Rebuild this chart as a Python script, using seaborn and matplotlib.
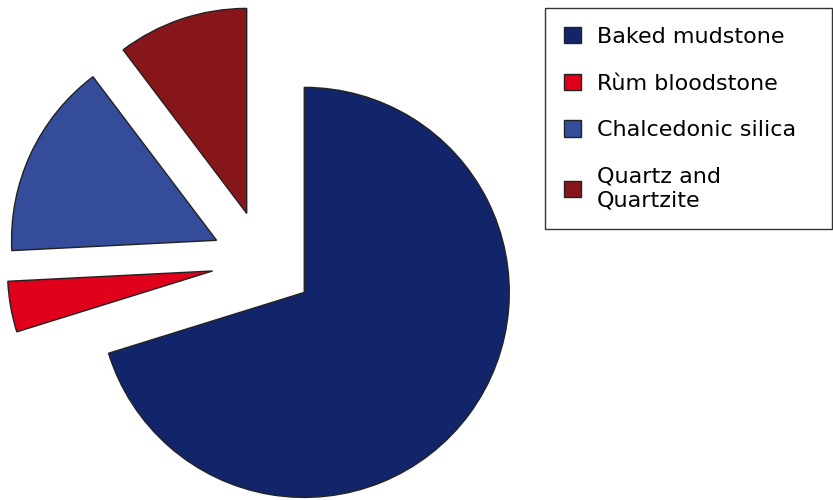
import textwrap
import matplotlib
matplotlib.use("Agg")
import matplotlib.pyplot as plt
import seaborn as sns

# Anteile der Rohmaterialien (Prozent, aus dem Bild geschaetzt)
materials = ["Baked mudstone", "Rùm bloodstone", "Chalcedonic silica",
             "Quartz and Quartzite"]
shares = [70.2, 4.0, 15.5, 10.3]
colors = ["#12256a", "#e0001b", "#344c99", "#87161b"]

sns.set_style("white")
plt.rcParams['font.family'] = ['DejaVu Sans']

fig = plt.figure(figsize=(8.33, 5), dpi=100)
ax = fig.add_axes([0, 0, 1, 1])

wedges, _ = ax.pie(shares, colors=colors, startangle=90, counterclock=False,
                   explode=[0.25] * len(shares), radius=1.0,
                   wedgeprops=dict(edgecolor="#222222", linewidth=1.0))

# Pixel-Rahmen: Mittelpunkt bei ca. (263, 262) px, Radius 205 px
ax.set_xlim(-263 / 205, (833 - 263) / 205)
ax.set_ylim(-(500 - 262) / 205, 262 / 205)
ax.set_aspect("equal")
ax.axis("off")

labels = [textwrap.fill(m, 18) for m in materials]
leg = ax.legend(wedges, labels, loc="upper left", mode="expand",
                bbox_to_anchor=(545 / 833, 1 - 232 / 500, 287 / 833, 224 / 500),
                bbox_transform=fig.transFigure, borderaxespad=0,
                fontsize=16, frameon=True, fancybox=False,
                handlelength=0.75, handleheight=0.75, handletextpad=0.75,
                labelspacing=1.2, borderpad=0.85, labelcolor="black")
leg.get_frame().set_edgecolor("black")
leg.get_frame().set_linewidth(1.0)
for h in leg.legend_handles:
    h.set_edgecolor("#222222")

fig.savefig("out.png", dpi=100)
